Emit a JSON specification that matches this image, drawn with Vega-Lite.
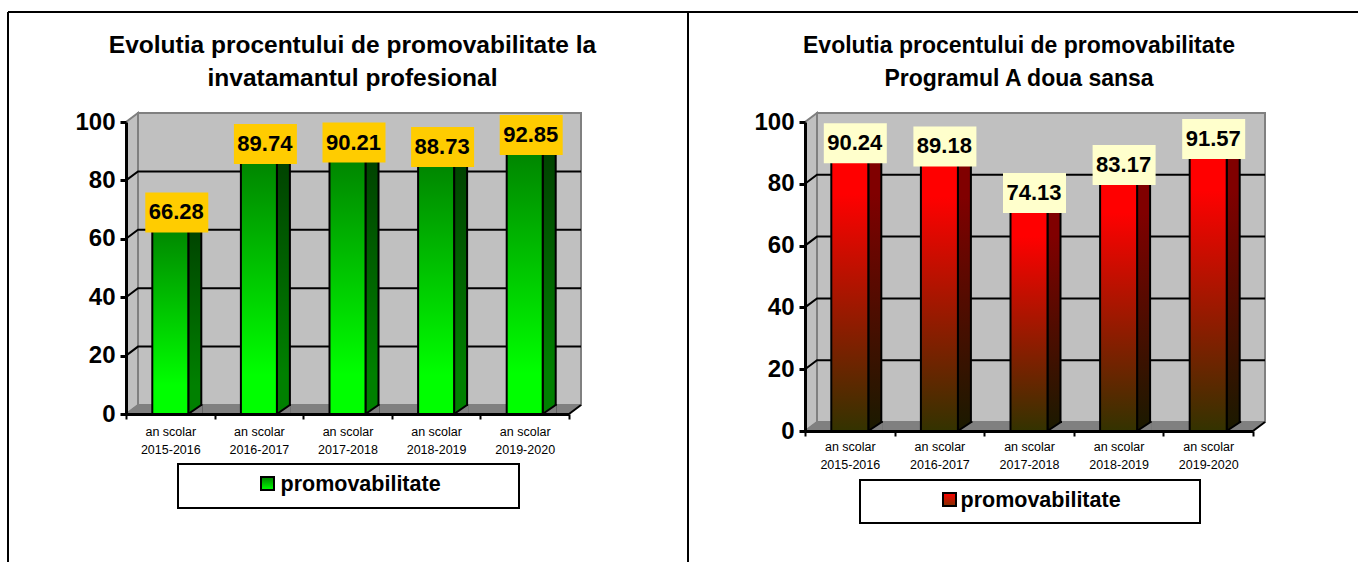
{"$schema":"https://vega.github.io/schema/vega-lite/v6.json","padding":{"left":7,"top":11,"right":0,"bottom":0},"background":"white","spacing":236,"bounds":"flush","config":{"view":{"stroke":null},"font":"Liberation Sans","axis":{"grid":false}},"resolve":{"legend":{"color":"independent"},"scale":{"color":"independent"}},"hconcat":[{"width":443,"height":292,"title":{"text":["Evolutia procentului de promovabilitate la","invatamantul profesional"],"fontSize":24.5,"fontWeight":"bold","font":"Liberation Sans","anchor":"middle","frame":"group","dx":5,"offset":-80,"lineHeight":33,"color":"black"},"layer":[{"data":{"values":[{"line":"frame"}]},"mark":{"type":"rule","stroke":"black","strokeWidth":2},"encoding":{"x":{"value":-118},"y":{"value":-110},"y2":{"value":440}}},{"data":{"values":[{"line":"frame"}]},"mark":{"type":"rule","stroke":"black","strokeWidth":2},"encoding":{"x":{"value":-118},"x2":{"value":1232},"y":{"value":-110}}},{"data":{"values":[{"line":"frame"}]},"mark":{"type":"rule","stroke":"black","strokeWidth":2},"encoding":{"x":{"value":562},"y":{"value":-110},"y2":{"value":440}}},{"data":{"values":[{"part":"back"}]},"mark":{"type":"point","filled":true,"opacity":1,"size":4,"shape":"M12,-9L12,-301L455,-301L455,-9Z","fill":"#C0C0C0","stroke":"#808080","strokeWidth":2},"encoding":{"x":{"value":0},"y":{"datum":0,"type":"quantitative","title":null,"scale":{"domain":[0,100],"nice":false}}}},{"data":{"values":[{"part":"left"}]},"mark":{"type":"point","filled":true,"opacity":1,"size":4,"shape":"M0,0L12,-9L12,-301L0,-292Z","fill":"#C0C0C0","stroke":"#808080","strokeWidth":2},"encoding":{"x":{"value":0},"y":{"datum":0,"type":"quantitative","title":null}}},{"data":{"values":[{"part":"floor"}]},"mark":{"type":"point","filled":true,"opacity":1,"size":4,"shape":"M0,0L12,-9L455,-9L443,0Z","fill":"#808080","stroke":"#808080","strokeWidth":1},"encoding":{"x":{"value":0},"y":{"datum":0,"type":"quantitative","title":null}}},{"data":{"values":[{"part":"edge"}]},"mark":{"type":"point","filled":false,"opacity":1,"size":4,"shape":"M443,0L455,-9","fill":null,"stroke":"black","strokeWidth":2},"encoding":{"x":{"value":0},"y":{"datum":0,"type":"quantitative","title":null}}},{"data":{"values":[{"tick":20},{"tick":40},{"tick":60},{"tick":80}]},"mark":{"type":"point","filled":false,"opacity":1,"size":4,"shape":"M0,0L12,-9L455,-9","fill":null,"stroke":"black","strokeWidth":2},"encoding":{"x":{"value":0},"y":{"field":"tick","type":"quantitative","title":null}}},{"data":{"values":[{"box":"legend"}]},"mark":{"type":"point","filled":true,"opacity":1,"size":4,"shape":"M52,50L393,50L393,94L52,94Z","fill":"white","stroke":"black","strokeWidth":2},"encoding":{"x":{"value":0},"y":{"datum":0,"type":"quantitative","title":null}}},{"data":{"values":[{"box":"symbol"}]},"mark":{"type":"point","filled":true,"opacity":1,"size":4,"shape":"M135,63L148,63L148,76L135,76Z","fill":{"gradient":"linear","x1":0,"y1":0,"x2":0,"y2":1,"stops":[{"offset":0,"color":"#008000"},{"offset":1,"color":"#00FF00"}]},"stroke":"black","strokeWidth":2},"encoding":{"x":{"value":0},"y":{"datum":0,"type":"quantitative","title":null}}},{"data":{"name":"p1","values":[{"an":"2015-2016","promovabilitate":66.28,"serie":"promovabilitate"},{"an":"2016-2017","promovabilitate":89.74,"serie":"promovabilitate"},{"an":"2017-2018","promovabilitate":90.21,"serie":"promovabilitate"},{"an":"2018-2019","promovabilitate":88.73,"serie":"promovabilitate"},{"an":"2019-2020","promovabilitate":92.85,"serie":"promovabilitate"}]},"layer":[{"mark":{"type":"bar","width":13,"xOffset":24.5,"stroke":"black","strokeWidth":2,"fill":{"gradient":"linear","x1":0,"y1":0,"x2":0,"y2":1,"stops":[{"offset":0,"color":"#004000"},{"offset":0.85,"color":"#008000"},{"offset":1,"color":"#008000"}]}},"encoding":{"x":{"field":"an","type":"nominal","sort":null,"title":null,"scale":{"type":"band","paddingInner":0,"paddingOuter":0},"axis":{"title":null,"labelExpr":"datum.label ? ['an scolar', datum.label] : ''","labelAngle":0,"labelAlign":"center","labelBaseline":"top","labelFontSize":12.5,"labelColor":"black","labelLineHeight":18,"labelPadding":6,"labelOverlap":false,"tickBand":"extent","tickColor":"black","tickWidth":2,"tickSize":5,"domainColor":"black","domainWidth":3,"zindex":1}},"y":{"field":"promovabilitate","type":"quantitative","title":null,"scale":{"domain":[0,100],"nice":false},"axis":{"title":null,"values":[0,20,40,60,80,100],"grid":false,"labelFontSize":24,"labelFontWeight":"bold","labelColor":"black","labelPadding":5,"tickColor":"black","tickWidth":3,"tickSize":6,"domainColor":"black","domainWidth":3,"zindex":1}}}},{"mark":{"type":"bar","width":36,"stroke":"black","strokeWidth":2,"fill":{"gradient":"linear","x1":0,"y1":0,"x2":0,"y2":1,"stops":[{"offset":0,"color":"#008000"},{"offset":0.85,"color":"#00FF00"},{"offset":1,"color":"#00FF00"}]}},"encoding":{"x":{"field":"an","type":"nominal","sort":null,"scale":{"type":"band","paddingInner":0,"paddingOuter":0},"title":null},"y":{"field":"promovabilitate","type":"quantitative","title":null,"scale":{"domain":[0,100],"nice":false}}}},{"mark":{"type":"bar","width":1,"opacity":0},"encoding":{"x":{"field":"an","type":"nominal","sort":null,"title":null,"scale":{"type":"band","paddingInner":0,"paddingOuter":0}},"y":{"field":"promovabilitate","type":"quantitative","title":null},"color":{"field":"serie","type":"nominal","scale":{"range":["#00C000"]},"legend":{"title":null,"orient":"none","legendX":130,"legendY":352,"symbolType":"square","symbolSize":196,"symbolOpacity":0,"labelFontSize":21.5,"labelFontWeight":"bold","labelColor":"black","labelOffset":3,"labelLimit":300}}}},{"mark":{"type":"point","filled":true,"opacity":1,"size":4,"shape":"M32,0L18,0L31,-9L32,-9","fill":"#808080","stroke":"black","strokeWidth":2},"encoding":{"x":{"field":"an","type":"nominal","sort":null,"title":null,"scale":{"type":"band","paddingInner":0,"paddingOuter":0}},"y":{"datum":0,"type":"quantitative","title":null}}},{"mark":{"type":"point","filled":true,"opacity":1,"size":4,"shape":"M-25,-28L38,-28L38,12L-25,12Z","fill":"#FFCC00","stroke":null},"encoding":{"x":{"field":"an","type":"nominal","sort":null,"title":null,"scale":{"type":"band","paddingInner":0,"paddingOuter":0}},"y":{"field":"promovabilitate","type":"quantitative","title":null}}},{"mark":{"type":"text","fontSize":22,"fontWeight":"bold","color":"black","dx":6,"dy":-8,"align":"center","baseline":"middle"},"encoding":{"x":{"field":"an","type":"nominal","sort":null,"title":null,"scale":{"type":"band","paddingInner":0,"paddingOuter":0}},"y":{"field":"promovabilitate","type":"quantitative","title":null},"text":{"field":"promovabilitate","type":"quantitative","format":".2f"}}}]}]},{"width":448,"height":309,"title":{"text":["Evolutia procentului de promovabilitate","Programul A doua sansa"],"fontSize":23,"fontWeight":"bold","font":"Liberation Sans","anchor":"middle","frame":"group","dx":-10,"offset":18,"lineHeight":33,"color":"black"},"layer":[{"data":{"values":[{"part":"back"}]},"mark":{"type":"point","filled":true,"opacity":1,"size":4,"shape":"M12,-9L12,-318L460,-318L460,-9Z","fill":"#C0C0C0","stroke":"#808080","strokeWidth":2},"encoding":{"x":{"value":0},"y":{"datum":0,"type":"quantitative","title":null,"scale":{"domain":[0,100],"nice":false}}}},{"data":{"values":[{"part":"left"}]},"mark":{"type":"point","filled":true,"opacity":1,"size":4,"shape":"M0,0L12,-9L12,-318L0,-309Z","fill":"#C0C0C0","stroke":"#808080","strokeWidth":2},"encoding":{"x":{"value":0},"y":{"datum":0,"type":"quantitative","title":null}}},{"data":{"values":[{"part":"floor"}]},"mark":{"type":"point","filled":true,"opacity":1,"size":4,"shape":"M0,0L12,-9L460,-9L448,0Z","fill":"#808080","stroke":"#808080","strokeWidth":1},"encoding":{"x":{"value":0},"y":{"datum":0,"type":"quantitative","title":null}}},{"data":{"values":[{"part":"edge"}]},"mark":{"type":"point","filled":false,"opacity":1,"size":4,"shape":"M448,0L460,-9","fill":null,"stroke":"black","strokeWidth":2},"encoding":{"x":{"value":0},"y":{"datum":0,"type":"quantitative","title":null}}},{"data":{"values":[{"tick":20},{"tick":40},{"tick":60},{"tick":80}]},"mark":{"type":"point","filled":false,"opacity":1,"size":4,"shape":"M0,0L12,-9L460,-9","fill":null,"stroke":"black","strokeWidth":2},"encoding":{"x":{"value":0},"y":{"field":"tick","type":"quantitative","title":null}}},{"data":{"values":[{"box":"legend"}]},"mark":{"type":"point","filled":true,"opacity":1,"size":4,"shape":"M55,49L395,49L395,92L55,92Z","fill":"white","stroke":"black","strokeWidth":2},"encoding":{"x":{"value":0},"y":{"datum":0,"type":"quantitative","title":null}}},{"data":{"values":[{"box":"symbol"}]},"mark":{"type":"point","filled":true,"opacity":1,"size":4,"shape":"M138,62L151,62L151,75L138,75Z","fill":{"gradient":"linear","x1":0,"y1":0,"x2":0,"y2":1,"stops":[{"offset":0,"color":"#FF0000"},{"offset":1,"color":"#803000"}]},"stroke":"black","strokeWidth":2},"encoding":{"x":{"value":0},"y":{"datum":0,"type":"quantitative","title":null}}},{"data":{"name":"p2","values":[{"an":"2015-2016","promovabilitate":90.24,"serie":"promovabilitate"},{"an":"2016-2017","promovabilitate":89.18,"serie":"promovabilitate"},{"an":"2017-2018","promovabilitate":74.13,"serie":"promovabilitate"},{"an":"2018-2019","promovabilitate":83.17,"serie":"promovabilitate"},{"an":"2019-2020","promovabilitate":91.57,"serie":"promovabilitate"}]},"layer":[{"mark":{"type":"bar","width":13,"xOffset":25,"stroke":"black","strokeWidth":2,"fill":{"gradient":"linear","x1":0,"y1":0,"x2":0,"y2":1,"stops":[{"offset":0,"color":"#800000"},{"offset":0.15,"color":"#800000"},{"offset":1,"color":"#1A1A00"}]}},"encoding":{"x":{"field":"an","type":"nominal","sort":null,"title":null,"scale":{"type":"band","paddingInner":0,"paddingOuter":0},"axis":{"title":null,"labelExpr":"datum.label ? ['an scolar', datum.label] : ''","labelAngle":0,"labelAlign":"center","labelBaseline":"top","labelFontSize":12.5,"labelColor":"black","labelLineHeight":18,"labelPadding":4,"labelOverlap":false,"tickBand":"extent","tickColor":"black","tickWidth":2,"tickSize":5,"domainColor":"black","domainWidth":3,"zindex":1}},"y":{"field":"promovabilitate","type":"quantitative","title":null,"scale":{"domain":[0,100],"nice":false},"axis":{"title":null,"values":[0,20,40,60,80,100],"grid":false,"labelFontSize":24,"labelFontWeight":"bold","labelColor":"black","labelPadding":5,"tickColor":"black","tickWidth":3,"tickSize":6,"domainColor":"black","domainWidth":3,"zindex":1}}}},{"mark":{"type":"bar","width":37,"stroke":"black","strokeWidth":2,"fill":{"gradient":"linear","x1":0,"y1":0,"x2":0,"y2":1,"stops":[{"offset":0,"color":"#FF0000"},{"offset":0.15,"color":"#FF0000"},{"offset":1,"color":"#333300"}]}},"encoding":{"x":{"field":"an","type":"nominal","sort":null,"scale":{"type":"band","paddingInner":0,"paddingOuter":0},"title":null},"y":{"field":"promovabilitate","type":"quantitative","title":null,"scale":{"domain":[0,100],"nice":false}}}},{"mark":{"type":"bar","width":1,"opacity":0},"encoding":{"x":{"field":"an","type":"nominal","sort":null,"title":null,"scale":{"type":"band","paddingInner":0,"paddingOuter":0}},"y":{"field":"promovabilitate","type":"quantitative","title":null},"color":{"field":"serie","type":"nominal","scale":{"range":["#C02000"]},"legend":{"title":null,"orient":"none","legendX":131,"legendY":368,"symbolType":"square","symbolSize":196,"symbolOpacity":0,"labelFontSize":21.5,"labelFontWeight":"bold","labelColor":"black","labelOffset":3,"labelLimit":300}}}},{"mark":{"type":"point","filled":true,"opacity":1,"size":4,"shape":"M33,0L18.5,0L32,-9L33,-9","fill":"#808080","stroke":"black","strokeWidth":2},"encoding":{"x":{"field":"an","type":"nominal","sort":null,"title":null,"scale":{"type":"band","paddingInner":0,"paddingOuter":0}},"y":{"datum":0,"type":"quantitative","title":null}}},{"mark":{"type":"point","filled":true,"opacity":1,"size":4,"shape":"M-26,-29L37,-29L37,11L-26,11Z","fill":"#FFFFCC","stroke":null},"encoding":{"x":{"field":"an","type":"nominal","sort":null,"title":null,"scale":{"type":"band","paddingInner":0,"paddingOuter":0}},"y":{"field":"promovabilitate","type":"quantitative","title":null}}},{"mark":{"type":"text","fontSize":22,"fontWeight":"bold","color":"black","dx":5,"dy":-9,"align":"center","baseline":"middle"},"encoding":{"x":{"field":"an","type":"nominal","sort":null,"title":null,"scale":{"type":"band","paddingInner":0,"paddingOuter":0}},"y":{"field":"promovabilitate","type":"quantitative","title":null},"text":{"field":"promovabilitate","type":"quantitative","format":".2f"}}}]}]}]}
